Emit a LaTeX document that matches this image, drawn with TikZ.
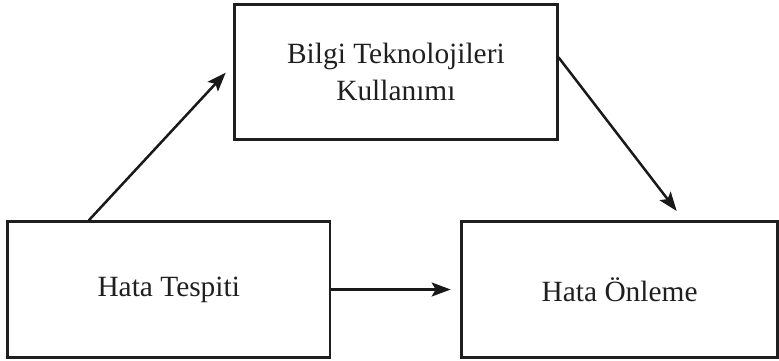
\documentclass[tikz,border=0pt]{standalone}
\usepackage{fontspec}
\setmainfont{Liberation Serif}
\usetikzlibrary{arrows.meta,calc}
\begin{document}
\begin{tikzpicture}[x=1bp,y=-1bp,
  box/.style={draw=black!88,line width=2.6bp,rectangle,inner sep=0pt,
    align=center,font=\fontsize{29.5}{36.8}\selectfont,text=black!88},
  link/.style={draw=black!90,line width=2.5bp,
    -{Stealth[length=19bp,width=14bp,inset=4bp]}}]
  \useasboundingbox (0,0) rectangle (779,360);
  % the three boxes
  \node[box,minimum width=322.6bp,minimum height=134.6bp] (bt) at (395.9,72)
    {Bilgi Teknolojileri\\Kullanımı};
  \node[box,minimum width=322.7bp,minimum height=135.6bp] (ht) at (168.7,289.5)
    {Hata Tespiti};
  \node[box,minimum width=315.8bp,minimum height=135.6bp] (ho) at (619.6,289.5)
    {Hata Önleme};
  % free ends of the connectors
  \coordinate (a1s) at ($(ht.north west)+(82.7,0)$);
  \coordinate (a1e) at (225.7,72.7);
  \coordinate (a2s) at ($(bt.east)+(0,-14.7)$);
  \coordinate (a2e) at (676.7,211);
  \coordinate (a3e) at (450.7,289.5);
  % connectors
  \draw[link] (a1s) -- (a1e);
  \draw[link] (a2s) -- (a2e);
  \draw[link] (ht.east) -- (a3e);
\end{tikzpicture}
\end{document}
